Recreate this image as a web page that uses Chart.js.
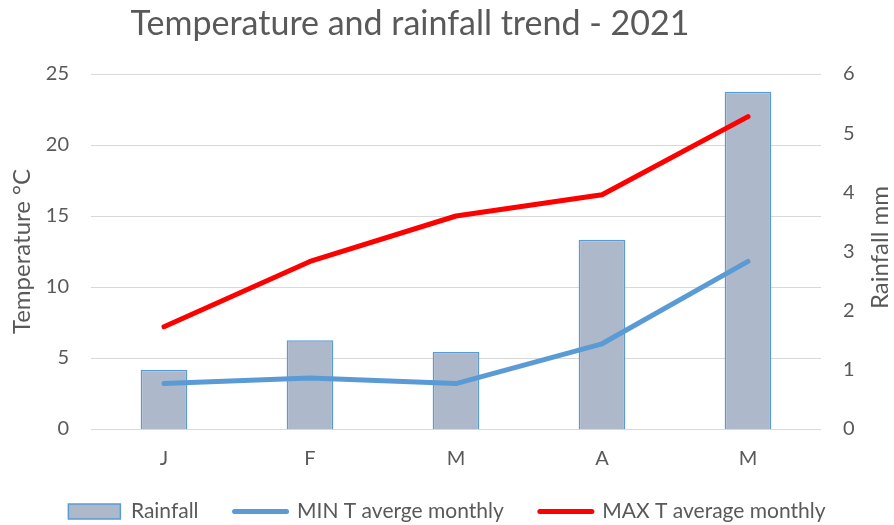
<!DOCTYPE html>
<html>
<head>
<meta charset="utf-8">
<script src="https://cdn.jsdelivr.net/npm/chart.js@4.4.0/dist/chart.umd.min.js"></script>
<style>
  html, body { margin: 0; padding: 0; background: #fff; }
  #wrap { width: 894px; height: 525px; }
</style>
</head>
<body>
<div id="wrap"><canvas id="chart" width="894" height="525"></canvas></div>
<script>
const months = ['J', 'F', 'M', 'A', 'M'];
const rainfall = [1.0, 1.5, 1.3, 3.2, 5.7];
const minTemp = [3.2, 3.6, 3.2, 6.0, 11.8];
const maxTemp = [7.2, 11.8, 15.0, 16.5, 22.0];
const tempTicks = [0, 5, 10, 15, 20, 25];
const rainTicks = [0, 1, 2, 3, 4, 5, 6];

const grey = '#595959';
const fontFam = 'Lato, "Open Sans", sans-serif';

// title and right axis title drawn by hand (Excel look)
const extraText = {
	id: 'extraText',
	beforeLayout(chart) {
		// keep the legend strip short so the plot reaches down like in excel
		const lg = chart.legend;
		if (lg && !lg._patched) {
			const fit = lg.fit;
			lg.fit = function() {
				fit.call(this);
				this.height = 60;
			};
			lg._patched = true;
		}
	},
	afterDraw(chart) {
		const ctx = chart.ctx;
		ctx.save();
		ctx.fillStyle = grey;
		ctx.textAlign = 'center';
		ctx.textBaseline = 'middle';
		ctx.font = '34px ' + fontFam;
		ctx.fillText('Temperature and rainfall trend - 2021', 410, 24);
		ctx.translate(880, (chart.chartArea.top + chart.chartArea.bottom) / 2 - 4);
		ctx.rotate(-Math.PI / 2);
		ctx.font = '24px ' + fontFam;
		ctx.fillText('Rainfall mm', 0, 0);
		ctx.restore();
	}
};

const canvas = document.getElementById('chart');
const chart = new Chart(canvas.getContext('2d'), {
	type: 'bar',
	data: {
		labels: months,
		datasets: [
			{
				type: 'line',
				label: 'MIN T averge monthly',
				data: minTemp,
				yAxisID: 'y',
				borderColor: '#5B9BD5',
				backgroundColor: '#5B9BD5',
				borderWidth: 5,
				borderCapStyle: 'round',
				borderJoinStyle: 'round',
				pointRadius: 0,
				tension: 0,
				order: 1
			},
			{
				type: 'line',
				label: 'MAX T average monthly',
				data: maxTemp,
				yAxisID: 'y',
				borderColor: '#FF0000',
				backgroundColor: '#FF0000',
				borderWidth: 5,
				borderCapStyle: 'round',
				borderJoinStyle: 'round',
				pointRadius: 0,
				tension: 0,
				order: 2
			},
			{
				type: 'bar',
				label: 'Rainfall',
				data: rainfall,
				yAxisID: 'y1',
				backgroundColor: '#ADB9CA',
				borderColor: '#5B9BD5',
				borderWidth: 1.5,
				barPercentage: 0.32,
				categoryPercentage: 1,
				order: 3
			}
		]
	},
	options: {
		responsive: false,
		animation: false,
		layout: {
			padding: { top: 74, left: 0, right: 0, bottom: 0 }
		},
		scales: {
			x: {
				afterFit(scale) {
					scale.height = 36;
				},
				grid: { display: false, drawTicks: false },
				border: { display: false },
				ticks: {
					color: grey,
					font: { family: fontFam, size: 20 },
					padding: 18
				}
			},
			y: {
				position: 'left',
				min: 0,
				max: 25,
				afterBuildTicks(scale) {
					scale.ticks = tempTicks.map(v => ({ value: v }));
				},
				afterFit(scale) {
					scale.width = 91;
				},
				grid: { color: '#D9D9D9', lineWidth: 1, drawTicks: false },
				border: { display: false },
				ticks: {
					color: grey,
					font: { family: fontFam, size: 20 },
					padding: 22
				},
				title: {
					display: true,
					text: 'Temperature °C',
					color: grey,
					font: { family: fontFam, size: 24 },
					padding: { top: 8, bottom: 0 }
				}
			},
			y1: {
				position: 'right',
				min: 0,
				max: 6,
				afterBuildTicks(scale) {
					scale.ticks = rainTicks.map(v => ({ value: v }));
				},
				afterFit(scale) {
					scale.width = 73;
				},
				grid: { display: false, drawTicks: false },
				border: { display: false },
				ticks: {
					color: grey,
					font: { family: fontFam, size: 20 },
					padding: 22
				}
			}
		},
		plugins: {
			title: { display: false },
			tooltip: { enabled: false },
			legend: {
				position: 'bottom',
				fullSize: true,
				labels: {
					usePointStyle: true,
					pointStyleWidth: 52,
					boxHeight: 15,
					padding: 36,
					color: grey,
					font: { family: fontFam, size: 21 },
					generateLabels(chart) {
						const ds = chart.data.datasets;
						return [2, 0, 1].map(i => ({
							text: ds[i].label,
							datasetIndex: i,
							fillStyle: ds[i].backgroundColor,
							strokeStyle: ds[i].borderColor,
							lineWidth: ds[i].type === 'bar' ? 1.5 : 5,
							lineCap: 'round',
							pointStyle: ds[i].type === 'bar' ? 'rect' : 'line',
							hidden: false,
							fontColor: grey
						}));
					}
				}
			}
		}
	},
	plugins: [extraText]
});
</script>
</body>
</html>
